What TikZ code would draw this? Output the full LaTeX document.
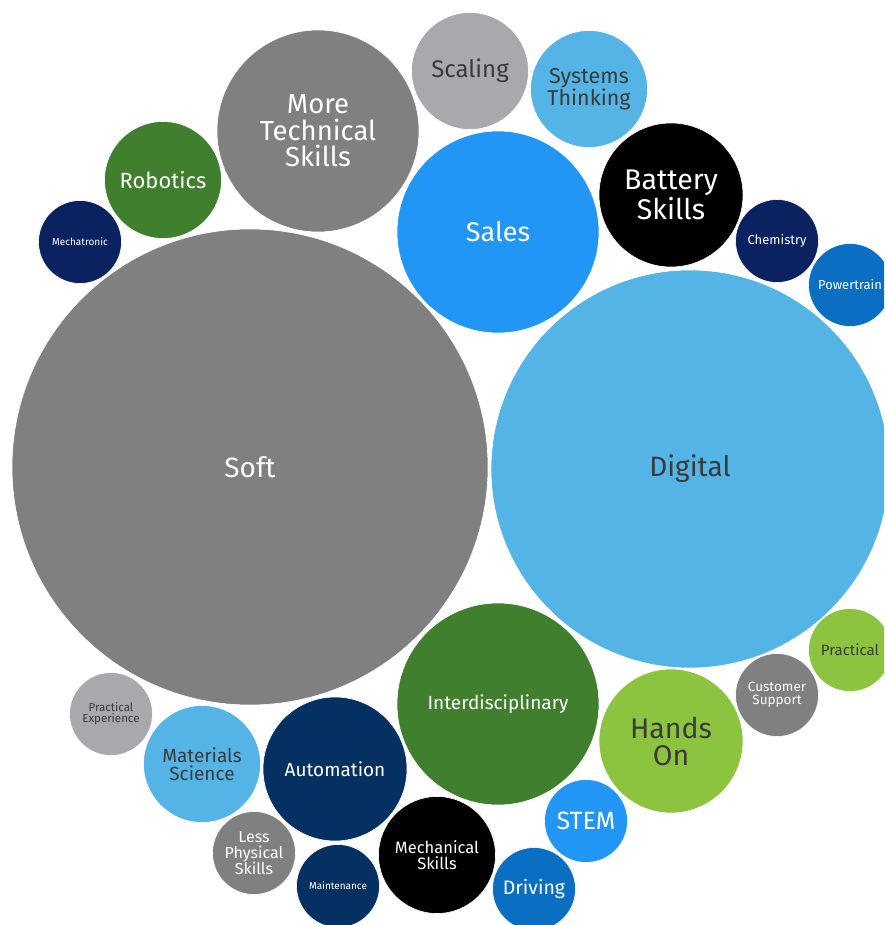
\documentclass[tikz,border=0pt]{standalone}
\usepackage{fontspec}
\setmainfont{Fira Sans}
\usetikzlibrary{positioning}
\definecolor{midgrey}{HTML}{808080}
\definecolor{palegrey}{HTML}{A7A9AC}
\definecolor{skyblue}{HTML}{53B4E5}
\definecolor{brightblue}{HTML}{2196F5}
\definecolor{oceanblue}{HTML}{0A6FC2}
\definecolor{inkblue}{HTML}{0B2260}
\definecolor{navyblue}{HTML}{053162}
\definecolor{leafgreen}{HTML}{3F7F2D}
\definecolor{limegreen}{HTML}{8CC43F}
\definecolor{darktext}{HTML}{3A3A3A}

\newcommand{\fs}[2]{\fontsize{#1}{#2}\selectfont}

\begin{document}
\begin{tikzpicture}[x=1pt,y=-1pt]
\tikzstyle{bubble}=[circle,draw=white,line width=0.6pt,inner sep=0pt,align=center,text=white]
\tikzstyle{dark}=[text=darktext]
\clip (0,0) rectangle (884,925);
\useasboundingbox (0,0) rectangle (884,925);
% big ones
\node [bubble,fill=midgrey,minimum size=476,font=\fs{28}{32}] at (250,467) (soft) {Soft};
\node [bubble,dark,fill=skyblue,minimum size=398,font=\fs{28}{32}] at (690,469) (digital) {Digital};
\node [bubble,fill=brightblue,minimum size=202,font=\fs{27}{30}] at (498,232) (sales) {Sales};
\node [bubble,fill=midgrey,minimum size=202,font=\fs{27.5}{26.5}] at (318,131) (tech) {More\\Technical\\Skills};
\node [bubble,fill=leafgreen,minimum size=202,font=\fs{19}{22}] at (498,704) (inter) {Interdisciplinary};
% medium ones
\node [bubble,fill=black,minimum size=144,font=\fs{28.5}{26}] at (671,195) (battery) {Battery\\Skills};
\node [bubble,dark,fill=limegreen,minimum size=144,font=\fs{28.5}{27}] at (671,741) (hands) {Hands\\On};
\node [bubble,fill=navyblue,minimum size=144,font=\fs{19}{20}] at (335,769) (auto) {Automation};
\node [bubble,fill=leafgreen,minimum size=117,font=\fs{22}{24}] at (163,180) (robotics) {Robotics};
\node [bubble,dark,fill=palegrey,minimum size=117,font=\fs{24}{24}] at (470,71) (scaling) {Scaling};
\node [bubble,dark,fill=skyblue,minimum size=117,font=\fs{21.5}{21}] at (589,89) (systems) {Systems\\Thinking};
\node [bubble,dark,fill=skyblue,minimum size=117,font=\fs{19}{17.5}] at (202,764) (materials) {Materials\\Science};
\node [bubble,fill=black,minimum size=117,font=\fs{16.5}{16}] at (437,855) (mech) {Mechanical\\Skills};
% small ones
\node [bubble,fill=inkblue,minimum size=83,font=\fs{10}{10}] at (80,242) (mechatronic) {Mechatronic};
\node [bubble,fill=inkblue,minimum size=83,font=\fs{13}{13}] at (777,241) (chem) {Chemistry};
\node [bubble,fill=oceanblue,minimum size=83,font=\fs{13}{13}] at (850,285) (power) {Powertrain};
\node [bubble,dark,fill=limegreen,minimum size=83,font=\fs{15}{15}] at (850,650) (practical) {Practical};
\node [bubble,fill=midgrey,minimum size=83,font=\fs{13.5}{13}] at (777,695) (customer) {Customer\\Support};
\node [bubble,fill=brightblue,minimum size=83,font=\fs{25}{24}] at (586,821) (stem) {STEM};
\node [bubble,fill=oceanblue,minimum size=83,font=\fs{19.5}{20}] at (534,889) (driving) {Driving};
\node [bubble,fill=navyblue,minimum size=83,font=\fs{10}{10}] at (338,886) (maint) {Maintenance};
\node [bubble,fill=midgrey,minimum size=83,font=\fs{16}{16}] at (254,853) (less) {Less\\Physical\\Skills};
\node [bubble,dark,fill=palegrey,minimum size=83,font=\fs{11.5}{11}] at (111,714) (experience) {Practical\\Experience};
\end{tikzpicture}
\end{document}
